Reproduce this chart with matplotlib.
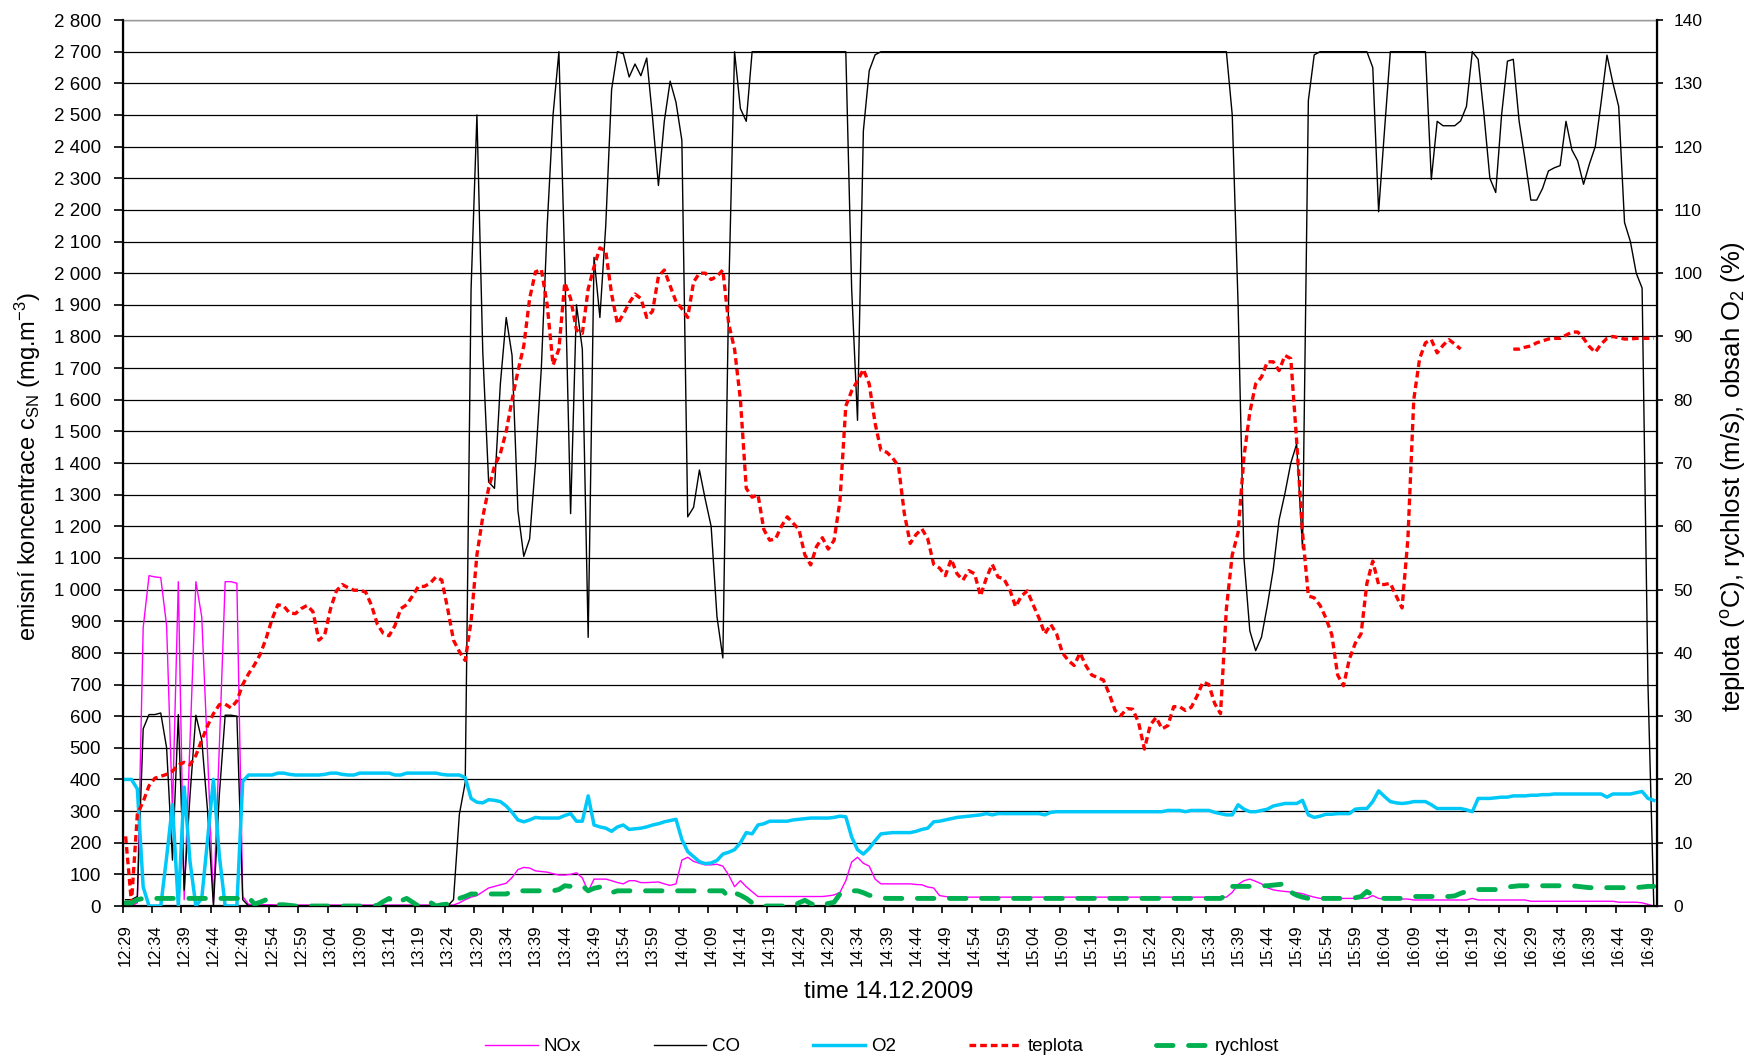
import numpy as np
import pandas as pd
import matplotlib
matplotlib.use("Agg")
import matplotlib.pyplot as plt
from matplotlib.ticker import FuncFormatter, NullFormatter

plt.rcParams['font.family'] = ['Liberation Sans', 'DejaVu Sans']
plt.rcParams['mathtext.default'] = 'regular'

# one reading per minute, 14.12.2009 12:29 - 16:50
times = pd.date_range('2009-12-14 12:29', periods=262, freq='min')
tick_labels = list(times.strftime('%H:%M')[::5])

# NOx (mg/m3)
nox = ([0, 0, 10, 880, 1044, 1040, 1038, 886, 300, 1025,
        20, 520, 1025, 914, 480, 10, 500, 1025, 1025, 1020,
        30, 5, 5, 4, 4, 4, 3, 3, 3, 3]
       + [3] * 27 + [10, 20, 28,
        33, 45, 57, 62, 67, 72, 90, 115, 122, 120,
        111, 109, 107, 102, 98, 98, 100, 105, 89, 46,
        85, 85, 85, 80, 74, 70, 80, 80, 74, 74,
        75, 76, 70, 65, 70, 145, 154, 141, 135, 130,
        130, 132, 126, 98, 61, 80, 61, 45, 30, 30]
       + [30] * 10 +
       [32, 35, 43, 80, 139, 154, 135, 126, 85, 70,
        70, 70, 70, 70, 70, 68, 67, 60, 57, 33, 30]
       + [28] * 48 + [43,
        68, 80, 85, 78, 70, 58, 51, 48, 46, 44,
        42, 39, 33, 28, 24, 24, 24, 24, 24, 24,
        24, 24, 24, 33, 24, 22, 22, 22, 22, 22]
       + [19] * 10 + [24] + [19] * 9 + [15] * 15 +
       [12, 12, 12, 12, 10, 5, 0])

# CO (mg/m3)
co = ([20, 20, 30, 560, 605, 605, 610, 500, 145, 605,
       50, 350, 603, 525, 300, 0, 350, 603, 603, 600, 20]
      + [0] * 35 +
      [20, 290, 390, 1950,
       2500, 1750, 1340, 1320, 1650, 1860, 1740, 1250, 1105, 1160,
       1400, 1700, 2150, 2500, 2700, 2030, 1240, 1900, 1760, 849,
       2050, 1860, 2150, 2580, 2700, 2694, 2620, 2661, 2624, 2680,
       2490, 2277, 2480, 2607, 2540, 2420, 1230, 1260, 1378, 1285,
       1200, 914, 784, 1934, 2700, 2520, 2480]
      + [2700] * 17 +
      [1950, 1535, 2450, 2640, 2690]
      + [2700] * 60 +
      [2500,
       1900, 1100, 870, 807, 850, 950, 1063, 1220, 1304, 1400,
       1460, 1130, 2546, 2690]
      + [2700] * 9 +
      [2650, 2194, 2450]
      + [2700] * 7 +
      [2296, 2480, 2466, 2466, 2466, 2481, 2527,
       2700, 2676, 2500, 2300, 2255, 2500, 2670, 2676, 2480, 2360,
       2231, 2231, 2268, 2323, 2333, 2340, 2480, 2390, 2355, 2281,
       2345, 2400, 2540, 2689, 2602, 2527, 2160, 2100, 2000, 1953,
       700, 0])

# O2 (%)
o2 = ([20, 20, 18.5, 3, 0, 0, 0, 7.7, 16, 0,
       18.8, 7, 0, 1.2, 10.5, 20, 8, 0, 0, 0,
       19.7, 20.7, 20.7, 20.7, 20.7, 20.7, 21, 21, 20.8, 20.7,
       20.7, 20.7, 20.7, 20.7, 20.8, 21, 21, 20.8, 20.7, 20.7,
       21, 21, 21, 21, 21, 21, 20.7, 20.7, 21, 21,
       21, 21, 21, 21, 20.8, 20.7, 20.7, 20.7, 20.3, 17,
       16.4, 16.3, 16.8, 16.7, 16.5, 15.8, 14.8, 13.6, 13.3, 13.6,
       14, 13.9, 13.9, 13.9, 13.9, 14.3, 14.6, 13.4, 13.4, 17.4,
       12.8, 12.5, 12.3, 11.8, 12.5, 12.8, 12.1, 12.2, 12.3, 12.5,
       12.8, 13, 13.3, 13.5, 13.7, 10.5, 8.6, 7.8, 7.0, 6.7,
       6.8, 7.2, 8.2, 8.5, 8.9, 10, 11.6, 11.4, 12.8, 13,
       13.4, 13.4, 13.4, 13.4, 13.6, 13.7, 13.8, 13.9, 13.9, 13.9,
       13.9, 14, 14.2, 14.1, 10.9, 8.9, 8.2, 9.1, 10.3, 11.4,
       11.5, 11.6, 11.6, 11.6, 11.6, 11.8, 12.1, 12.3, 13.3, 13.4,
       13.6, 13.8, 14, 14.1, 14.2, 14.3, 14.4, 14.6, 14.4, 14.6]
      + [14.6] * 7 + [14.4, 14.8] + [14.9] * 19 +
      [15.1, 15.1,
       15.1, 14.9, 15.1, 15.1, 15.1, 15.1, 14.8, 14.6, 14.4, 14.4,
       16, 15.3, 14.9, 14.9, 15.1, 15.3, 15.8, 16, 16.2, 16.2,
       16.2, 16.7, 14.4, 14, 14.2, 14.5, 14.5, 14.6, 14.6, 14.6,
       15.3, 15.4, 15.4, 16.5, 18.2, 17.3, 16.5, 16.3, 16.2, 16.3,
       16.5, 16.5, 16.5, 16, 15.4, 15.4, 15.4, 15.4, 15.4, 15.2,
       14.9, 17, 17, 17, 17.1, 17.2, 17.2, 17.4, 17.4, 17.4,
       17.5, 17.5, 17.6, 17.6, 17.7, 17.7, 17.7, 17.7, 17.7, 17.7,
       17.7, 17.7, 17.7, 17.2, 17.7, 17.7, 17.7, 17.7, 17.9, 18.1,
       17, 16.7])

# teplota (deg C), gap in the record around 16:18 - 16:25
teplota = ([11, 0.5, 14.5, 16.5, 19, 20.2, 20.5, 20.8, 21.3, 22.3,
            22.7, 22.3, 23.8, 26.2, 28.5, 30.4, 31.8, 31.9, 31.3, 32.4,
            35, 36.7, 38.1, 39.8, 42.3, 45.3, 47.6, 47.4, 46.3, 46.2,
            47, 47.5, 46.5, 42, 42.8, 47, 49.8, 50.8, 50.3, 49.9,
            49.9, 49.6, 47.5, 44.5, 43.1, 42.7, 44.3, 47, 47.6, 49,
            50.5, 50.5, 51, 52, 51.5, 47, 42, 40.2, 38.8, 45,
            55.5, 61.5, 66, 69.5, 71.5, 75, 80, 84.5, 88.5, 96,
            100.2, 100.6, 95, 85.5, 88, 98.5, 96, 91, 90.5, 97.5,
            101, 104, 103.5, 96.7, 92, 93.5, 95.3, 96.7, 96, 93,
            94, 99.5, 100.5, 98, 95.5, 94.4, 93, 98.6, 100, 100,
            99, 99.5, 100.5, 92, 88, 80, 66, 64.6, 65, 59.5,
            57.8, 58, 60, 61.5, 60.5, 59.5, 55.5, 53.9, 56.8, 58.2,
            56.4, 57.8, 64, 79, 81.4, 83, 84.8, 82.5, 76.3, 72,
            71.7, 70.8, 69.5, 62, 57.3, 58.7, 59.6, 58, 54, 53.4,
            52.2, 54.8, 52.5, 51.5, 53, 52.5, 49, 51.8, 54, 52,
            51.7, 50, 47.3, 49, 49.8, 47.6, 45.5, 43, 44.5, 43,
            40, 38.8, 38, 40, 38, 36.5, 36.1, 35.7, 33.5, 30.9,
            30.1, 31.2, 31.1, 29, 24.8, 28.6, 29.8, 28, 28.5, 31.5,
            31.5, 30.9, 31.4, 33.2, 35.4, 35, 32, 30.4, 47, 55.5,
            59, 71, 78, 82.5, 83.6, 86, 86, 84.6, 87, 86.5,
            73.5, 59, 49, 48.7, 47.5, 45.5, 42.9, 36.5, 34.8, 39,
            41.5, 43, 51, 54.5, 50.8, 50.8, 51, 49, 47.1, 58,
            80, 86.5, 89, 89.5, 87.4, 88.6, 89.5, 88.8, 88]
           + [np.nan] * 8 +
           [88, 88, 88.3,
            88.5, 89, 89.3, 89.6, 89.7, 89.7, 90.2, 90.7, 90.7, 89.7,
            88.4, 87.5, 88.8, 89.7, 90, 89.8, 89.6, 89.6, 89.7, 89.7,
            89.7, 89.7])

# rychlost (m/s)
rychlost = ([0.5, 0.5, 1.0] + [1.2] * 18 +
            [1.4, 0.3, 0.6, 1.0, 0.3, 0.2, 0.2, 0.1]
            + [0] * 14 +
            [0.1, 0.7, 1.2, 0.4, 0.8, 1.2, 0.6,
             0, 0, 0.6, 0, 0.2, 0.3, 1.2, 1.2, 1.5, 1.9]
            + [1.9] * 6 +
            [2.3, 2.4, 2.4, 2.4,
             2.4, 2.4, 2.4, 2.4, 2.6, 3.2, 3.1, 3.1, 3.2, 2.4,
             2.8, 3.0, 2.4, 2.1]
            + [2.4] * 19 +
            [1.4, 2.1, 1.7, 1.2, 0.5, 0, 0,
             0, 0, 0, 0, 0, 0.5, 0.9, 0.4, 0, 0.2,
             0.4, 0.6, 1.9, 2.3, 2.4, 2.4, 2.1, 1.7, 1.5, 1.3]
            + [1.2] * 58 +
            [1.7, 3.1,
             3.1, 3.1, 3.1, 3.2, 3.2, 3.2, 3.3, 3.4, 3.5, 2.2,
             1.7, 1.4] + [1.2] * 8 +
            [1.3, 1.5, 2.3, 1.7, 1.3, 1.2, 1.2, 1.2, 1.2, 1.3]
            + [1.5] * 7 +
            [1.6, 2.0, 2.3,
             2.5, 2.6, 2.6, 2.6, 2.6, 2.8, 3.0, 3.1, 3.2, 3.2]
            + [3.2] * 8 + [3.1, 3.0] + [2.9] * 9 + [3.0, 3.1, 3.1])

x = np.arange(len(times))

fig = plt.figure(figsize=(17.49, 10.60), dpi=100)
ax = fig.add_axes([0.07015, 0.14528, 0.8771, 0.8358])
ax2 = ax.twinx()

l1, = ax.plot(x, nox, color='#ff00ff', lw=1.0, label='NOx')
l2, = ax.plot(x, co, color='black', lw=1.0, label='CO')
l3, = ax2.plot(x, o2, color='#00c8f8', lw=2.5, label='O2')
l4, = ax2.plot(x, teplota, color='#ff0000', lw=2.4,
               linestyle=(0, (2.0, 1.2)), label='teplota')
l5, = ax2.plot(x, rychlost, color='#00b050', lw=3.5,
               linestyle=(0, (3.4, 3.2)), dash_capstyle='round',
               label='rychlost')

# primary axis
ax.set_xlim(-0.5, len(x) - 0.5)
ax.set_ylim(0, 2800)
ax.set_yticks(np.arange(0, 2801, 100))
ax.yaxis.set_major_formatter(FuncFormatter(lambda v, p: f'{int(v):,}'.replace(',', ' ')))
ax.grid(axis='y', color='black', lw=0.9)
ax.set_axisbelow(True)
ax.tick_params(axis='y', length=6.5, width=1.2, pad=9, labelsize=13.5)

ax.set_xticks(np.arange(-0.5, len(x), 5))
ax.xaxis.set_major_formatter(NullFormatter())
ax.set_xticks(np.arange(0, len(x), 5), minor=True)
ax.set_xticklabels(tick_labels, minor=True, rotation=90, fontsize=12)
ax.tick_params(axis='x', which='major', length=5, width=1.2)
ax.tick_params(axis='x', which='minor', length=0, pad=13)

for sp in ('left', 'bottom'):
    ax.spines[sp].set_linewidth(1.6)
ax.spines['top'].set_color('#999999')
ax.spines['top'].set_linewidth(1.0)

# secondary axis
ax2.set_ylim(0, 140)
ax2.set_yticks(np.arange(0, 141, 10))
ax2.tick_params(axis='y', length=4, width=1.2, pad=8, labelsize=12.5)
ax2.spines['right'].set_linewidth(1.6)
ax2.spines['top'].set_visible(False)

fig.text(0.016, 0.560, 'emisní koncentrace c$_{SN}$ (mg.m$^{-3}$)',
         rotation=90, ha='center', va='center', fontsize=17)
fig.text(0.991, 0.550, 'teplota ($^{o}$C), rychlost (m/s), obsah O$_{2}$ (%)',
         rotation=90, ha='center', va='center', fontsize=18.5)
fig.text(0.5083, 0.0642, 'time 14.12.2009', ha='center', va='center', fontsize=17)

fig.legend(handles=[l1, l2, l3, l4, l5], loc='center', bbox_to_anchor=(0.5043, 0.0125),
           ncol=5, frameon=False, fontsize=13.5, handlelength=2.8,
           handletextpad=0.3, columnspacing=3.9)

fig.savefig('out.png', dpi=100)
